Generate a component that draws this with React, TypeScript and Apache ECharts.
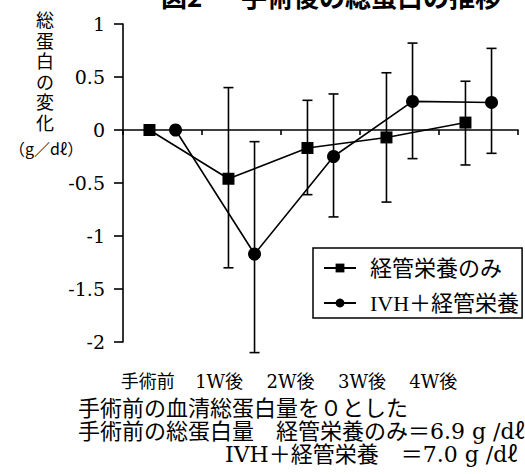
import React, { useEffect, useRef } from "react";
import * as echarts from "echarts";

// ---- data ----
const categories = ["手術前", "1W後", "2W後", "3W後", "4W後"];
const seriesNames = ["経管栄養のみ", "IVH＋経管栄養"];
const tubeMean = [0, -0.46, -0.17, -0.07, 0.07];
const tubeHigh = [0, 0.4, 0.28, 0.54, 0.46];
const tubeLow = [0, -1.3, -0.61, -0.68, -0.33];
const ivhMean = [0, -1.17, -0.25, 0.27, 0.26];
const ivhHigh = [0, -0.11, 0.34, 0.82, 0.77];
const ivhLow = [0, -2.1, -0.82, -0.27, -0.22];
const yMin = -2;
const yMax = 1;
const yStep = 0.5;
const titleParts = ["図2", "手術後の総蛋白の推移"];
const yTitle = ["総", "蛋", "白", "の", "変", "化"];
const yUnit = "（g／dℓ）";
const notes = [
  "手術前の血清総蛋白量を０とした",
  "手術前の総蛋白量　経管栄養のみ＝6.9 g /dℓ",
  "IVH＋経管栄養　＝7.0 g /dℓ",
];

const SERIF = "'Liberation Serif', 'Noto Sans CJK JP', serif";
const DSERIF = "'DejaVu Serif', 'Noto Sans CJK JP', serif";
const CJK = "'Noto Sans CJK JP', 'Liberation Serif', sans-serif";
const OFFSET = 0.165;
const BLACK = "#000";

const xOf = (i: number, side: number) => i + 0.5 + side * OFFSET;

function meanData(vals: number[], side: number) {
  return vals.map((v, i) => [xOf(i, side), v]);
}
function errData(lo: number[], hi: number[], side: number) {
  const out: number[][] = [];
  lo.forEach((l, i) => {
    if (hi[i] !== l) out.push([xOf(i, side), l, hi[i]]);
  });
  return out;
}

const errRender = (params: any, api: any) => {
  const x = api.value(0);
  const lo = api.value(1);
  const hi = api.value(2);
  const top = api.coord([x, hi]);
  const bot = api.coord([x, lo]);
  const half = 5;
  const style = { stroke: BLACK, lineWidth: 1.6 };
  return {
    type: "group",
    children: [
      { type: "line", shape: { x1: top[0], y1: top[1], x2: bot[0], y2: bot[1] }, style },
      { type: "line", shape: { x1: top[0] - half, y1: top[1], x2: top[0] + half, y2: top[1] }, style },
      { type: "line", shape: { x1: bot[0] - half, y1: bot[1], x2: bot[0] + half, y2: bot[1] }, style },
    ],
  };
};

export default function App() {
  const ref = useRef<HTMLDivElement>(null);
  useEffect(() => {
    if (!ref.current) return;
    const chart = echarts.init(ref.current, undefined, { renderer: "svg" });
    const lineStyle = { color: BLACK, width: 1.6 };
    const noteX = [78, 78, 225];
    const noteY = [408, 431, 454];
    const noteEls = notes.map((t, k) => ({
      type: "text",
      x: noteX[k],
      y: noteY[k],
      style: { text: t, fontSize: 22, fontFamily: DSERIF, fill: BLACK, verticalAlign: "middle" },
    }));
    const yTitleEls = yTitle.map((ch, k) => ({
      type: "text",
      x: 45,
      y: 19 + k * 20.6,
      style: { text: ch, fontSize: 18, fontFamily: CJK, fill: BLACK, align: "center", verticalAlign: "middle" },
    }));
    chart.setOption({
      animation: false,
      backgroundColor: "#fff",
      textStyle: { fontFamily: SERIF, color: BLACK },
      grid: [
        { left: 123, top: 24, width: 395, height: 318 },
        { left: 112, top: 360, width: 357, height: 10 },
      ],
      xAxis: [
        {
          type: "value",
          gridIndex: 0,
          min: 0,
          max: 5,
          interval: 1,
          axisLine: { show: true, onZero: true, lineStyle },
          axisTick: { show: true, length: 5, lineStyle },
          axisLabel: { show: false },
          splitLine: { show: false },
        },
        {
          type: "category",
          gridIndex: 1,
          data: categories,
          boundaryGap: true,
          axisLine: { show: false, onZero: false },
          axisTick: { show: false },
          axisLabel: { fontSize: 18, color: BLACK, margin: 2, fontFamily: DSERIF },
        },
      ],
      yAxis: [
        {
          type: "value",
          gridIndex: 0,
          min: yMin,
          max: yMax,
          interval: yStep,
          axisLine: { show: true, onZero: false, lineStyle },
          axisTick: { show: true, length: 9, lineStyle },
          axisLabel: {
            fontSize: 19,
            color: BLACK,
            margin: 18,
            fontFamily: DSERIF,
          },
          splitLine: { show: false },
        },
        { type: "value", gridIndex: 1, show: false },
      ],
      legend: {
        data: seriesNames,
        orient: "vertical",
        left: 313,
        top: 248,
        padding: [9, 3, 4, 10],
        itemGap: 13,
        itemWidth: 32,
        itemHeight: 11,
        borderColor: BLACK,
        borderWidth: 1.5,
        textStyle: { fontSize: 22, color: BLACK, fontFamily: SERIF, lineHeight: 22, padding: [0, 0, 0, 9] },
      },
      series: [
        {
          name: seriesNames[0],
          type: "line",
          data: meanData(tubeMean, -1),
          symbol: "rect",
          symbolSize: 12,
          itemStyle: { color: BLACK },
          lineStyle,
          z: 4,
        },
        {
          name: seriesNames[1],
          type: "line",
          data: meanData(ivhMean, 1),
          symbol: "circle",
          symbolSize: 13,
          itemStyle: { color: BLACK },
          lineStyle,
          z: 4,
        },
        {
          name: "err-tube",
          type: "custom",
          data: errData(tubeLow, tubeHigh, -1),
          encode: { x: 0, y: [1, 2] },
          renderItem: errRender,
          clip: false,
          z: 3,
        },
        {
          name: "err-ivh",
          type: "custom",
          data: errData(ivhLow, ivhHigh, 1),
          encode: { x: 0, y: [1, 2] },
          renderItem: errRender,
          clip: false,
          z: 3,
        },
      ],
      graphic: [
        {
          type: "text",
          x: 161,
          y: 8,
          style: { text: titleParts[0], fontSize: 26, fontWeight: "bold", fontFamily: CJK, fill: BLACK, verticalAlign: "bottom" },
        },
        {
          type: "text",
          x: 241,
          y: 8,
          style: { text: titleParts[1], fontSize: 26, fontWeight: "bold", fontFamily: CJK, fill: BLACK, verticalAlign: "bottom" },
        },
        ...yTitleEls,
        {
          type: "text",
          x: 46,
          y: 148,
          style: { text: yUnit, fontSize: 16, fontFamily: CJK, fill: BLACK, align: "center", verticalAlign: "middle" },
        },
        ...noteEls,
      ],
    });
    return () => chart.dispose();
  }, []);
  return (
    <div
      ref={ref}
      style={{ position: "fixed", left: 0, top: 0, width: 525, height: 474, background: "#fff" }}
    />
  );
}
